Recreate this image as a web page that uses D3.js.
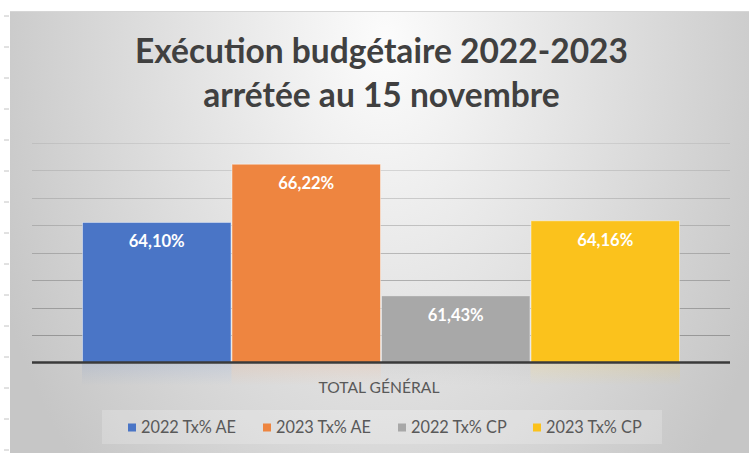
<!DOCTYPE html>
<html lang="fr">
<head>
<meta charset="UTF-8">
<title>Exécution budgétaire 2022-2023</title>
<script src="https://d3js.org/d3.v7.min.js"></script>
<style>
    body { margin: 0; background: #ffffff; overflow: hidden; }
    svg { display: block; font-family: 'Lato', 'Open Sans', sans-serif; }
    .grid line { stroke: #7f7f7f; stroke-width: 1.2; }
    .bar-label { fill: #ffffff; font-weight: bold; text-anchor: middle; }
    .cat-label, .legend text { fill: #595959; }
</style>
</head>
<body>
<script>
// chart data
const titleLines = ["Exécution budgétaire 2022-2023", "arrétée au 15 novembre"];
const categories = ["TOTAL GÉNÉRAL"];
const seriesNames = ["2022 Tx% AE", "2023 Tx% AE", "2022 Tx% CP", "2023 Tx% CP"];
const seriesValues = [64.10, 66.22, 61.43, 64.16];
const yDomain = [59, 67];

const width = 749, height = 453;
const plot = { left: 32, right: 730, top: 142.8, bottom: 362.5 };

const svg = d3.select("body").append("svg")
    .attr("width", width)
    .attr("height", height);

const defs = svg.append("defs");

// soft radial background like the Office "gradient" chart style
const bg = defs.append("radialGradient")
    .attr("id", "bg")
    .attr("gradientUnits", "userSpaceOnUse")
    .attr("cx", 385).attr("cy", 40).attr("r", 420)
    .attr("gradientTransform", "translate(385,40) scale(1,1.5) translate(-385,-40)");
bg.append("stop").attr("offset", 0).attr("stop-color", "#fcfcfc");
bg.append("stop").attr("offset", 1).attr("stop-color", "#c6c6c6");

// little ruler marks in the white margin on the left
svg.append("g").selectAll("line")
    .data(d3.range(16, height, 31))
    .join("line")
    .attr("x1", 4).attr("x2", 9)
    .attr("y1", d => d).attr("y2", d => d)
    .attr("stroke", "#c4c4c4");

svg.append("rect")
    .attr("x", 10).attr("y", 11)
    .attr("width", width - 10).attr("height", height - 11)
    .attr("fill", "url(#bg)");
svg.append("line")
    .attr("x1", 10).attr("x2", width)
    .attr("y1", 11.5).attr("y2", 11.5)
    .attr("stroke", "#d6d6d6");

// scales
const x0 = d3.scaleBand()
    .domain(categories)
    .range([plot.left, plot.right])
    .paddingOuter(0.0836);

const x1 = d3.scaleBand()
    .domain(seriesNames)
    .range([0, x0.bandwidth()]);

const y = d3.scaleLinear()
    .domain(yDomain)
    .range([plot.bottom, plot.top]);

const colour = d3.scaleOrdinal()
    .domain(seriesNames)
    .range(["#4a75c6", "#ee8540", "#a8a8a8", "#fbc21c"]);

const fmt = d3.formatLocale({ decimal: ",", thousands: " ", grouping: [3], currency: ["", "€"] }).format(".2f");

// gridlines, fading towards the top
const gridOpacity = d3.scaleLinear().domain(yDomain).range([0.75, 0.18]);
svg.append("g")
    .attr("class", "grid")
    .selectAll("line")
    .data(y.ticks(8).filter(t => t > yDomain[0]))
    .join("line")
    .attr("x1", plot.left).attr("x2", plot.right)
    .attr("y1", d => Math.round(y(d)) + 0.5)
    .attr("y2", d => Math.round(y(d)) + 0.5)
    .attr("stroke-opacity", d => gridOpacity(d));

const group = svg.append("g")
    .selectAll("g")
    .data(categories)
    .join("g")
    .attr("transform", d => `translate(${x0(d)},0)`);

const rows = seriesNames.map((name, i) => ({ name, value: seriesValues[i] }));

// faint coloured reflections under the bars
const refl = defs.selectAll(".refl-grad")
    .data(rows)
    .join("linearGradient")
    .attr("class", "refl-grad")
    .attr("id", (d, i) => "refl" + i)
    .attr("x1", 0).attr("y1", 0).attr("x2", 0).attr("y2", 1);
refl.append("stop").attr("offset", 0).attr("stop-color", d => colour(d.name)).attr("stop-opacity", 0.13);
refl.append("stop").attr("offset", 1).attr("stop-color", d => colour(d.name)).attr("stop-opacity", 0);

group.selectAll(".refl")
    .data(rows)
    .join("rect")
    .attr("class", "refl")
    .attr("x", d => x1(d.name))
    .attr("y", plot.bottom + 1)
    .attr("width", x1.bandwidth())
    .attr("height", 22)
    .attr("fill", (d, i) => `url(#refl${i})`);

group.selectAll(".bar")
    .data(rows)
    .join("rect")
    .attr("class", "bar")
    .attr("x", d => x1(d.name) + 0.5)
    .attr("y", d => y(d.value))
    .attr("width", x1.bandwidth() - 1)
    .attr("height", d => y(yDomain[0]) - y(d.value))
    .attr("fill", d => colour(d.name))
    .attr("stroke", "#ffffff")
    .attr("stroke-opacity", 0.45)
    .attr("stroke-width", 1);

const labels = group.selectAll(".bar-label")
    .data(rows)
    .join("text")
    .attr("class", "bar-label")
    .attr("x", d => x1(d.name) + x1.bandwidth() / 2)
    .attr("y", d => y(d.value) + 25)
    .attr("font-size", 16)
    .text(d => fmt(d.value) + "%");

// axis line
svg.append("line")
    .attr("x1", plot.left).attr("x2", plot.right)
    .attr("y1", plot.bottom).attr("y2", plot.bottom)
    .attr("stroke", "#3a3a3a")
    .attr("stroke-width", 2.6);

const catLabel = svg.append("g").selectAll("text")
    .data(categories)
    .join("text")
    .attr("class", "cat-label")
    .attr("x", d => x0(d) + x0.bandwidth() / 2 - 2)
    .attr("y", 392.7)
    .attr("text-anchor", "middle")
    .attr("font-size", 16)
    .text(d => d);

// title
const title = svg.append("g").selectAll("text")
    .data(titleLines)
    .join("text")
    .attr("x", 381.5)
    .attr("y", (d, i) => 62.7 + i * 44.6)
    .attr("text-anchor", "middle")
    .attr("font-weight", "bold")
    .attr("fill", "#404040")
    .attr("font-size", 32)
    .text(d => d);

// legend
svg.append("rect")
    .attr("x", 102).attr("y", 410)
    .attr("width", 560).attr("height", 34)
    .attr("fill", "#ffffff")
    .attr("fill-opacity", 0.2);

const legend = svg.append("g")
    .attr("class", "legend")
    .selectAll("g")
    .data(seriesNames)
    .join("g")
    .attr("transform", (d, i) => `translate(${128 + i * 135},0)`);

legend.append("rect")
    .attr("x", 0).attr("y", 423.5)
    .attr("width", 8).attr("height", 8)
    .attr("fill", d => colour(d));

const legendText = legend.append("text")
    .attr("x", 13)
    .attr("y", 433)
    .attr("font-size", 16)
    .text(d => d);

// size text so it takes the same width as in the original (Calibri) rendering
function fitTo(sel, target) {
    const node = sel.node();
    const fs = parseFloat(sel.attr("font-size"));
    const w = node.getComputedTextLength();
    sel.attr("font-size", (fs * target / w).toFixed(2));
}
fitTo(title, 493);
fitTo(labels, 56);
fitTo(catLabel, 121);
fitTo(legendText, 95);
</script>
</body>
</html>
